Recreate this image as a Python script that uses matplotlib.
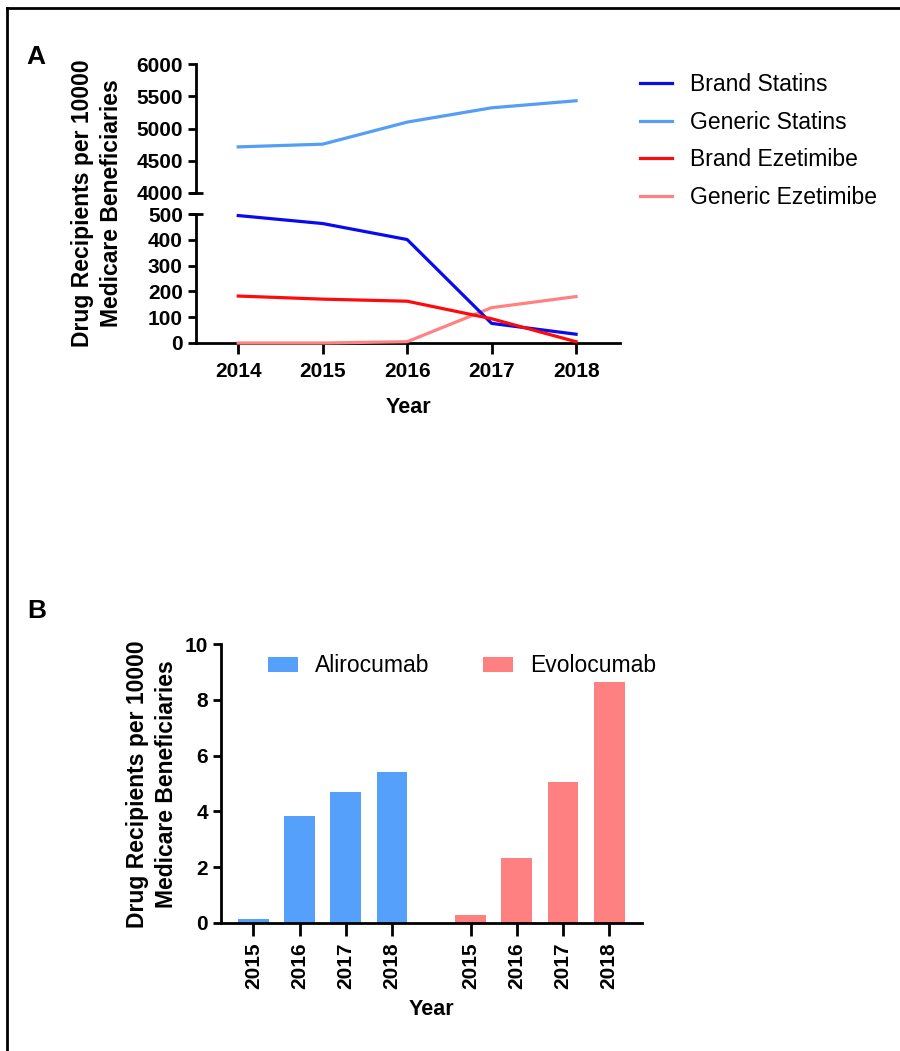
import matplotlib
matplotlib.use("Agg")
import matplotlib.pyplot as plt
from matplotlib.lines import Line2D

plt.rcParams['font.family'] = ['Liberation Sans', 'DejaVu Sans']

# ---- Panel A data: recipients per 10000 beneficiaries ----
years_a = [2014, 2015, 2016, 2017, 2018]
brand_statins = [494, 463, 401, 76, 34]
generic_statins = [4715, 4757, 5099, 5321, 5430]
brand_ezetimibe = [182, 170, 162, 94, 5]
generic_ezetimibe = [0, 0, 5, 137, 180]

# ---- Panel B data: PCSK9 inhibitors ----
years_b = ["2015", "2016", "2017", "2018"]
alirocumab = [0.13, 3.84, 4.70, 5.41]
evolocumab = [0.30, 2.33, 5.07, 8.64]

c_brand_statins = "#0a0af0"
c_generic_statins = "#559ef5"
c_brand_eze = "#ff0a0a"
c_generic_eze = "#ff8282"
c_bar_blue = "#55a0fa"
c_bar_pink = "#ff8080"

W, H = 900, 1051
fig = plt.figure(figsize=(W / 100, H / 100), dpi=100)


def rect(x0, y0, x1, y1):
    return [x0 / W, 1 - y1 / H, (x1 - x0) / W, (y1 - y0) / H]


SPINE_LW = 2.0
LINE_LW = 2.3
TICK_FS = 15

# ---------------- Panel A ----------------
ax_top = fig.add_axes(rect(196, 64, 620, 193))
ax_bot = fig.add_axes(rect(196, 214, 620, 343))

xlim_a = (2013.5, 2018.52)
for ax in (ax_top, ax_bot):
    ax.set_xlim(*xlim_a)
    ax.spines['top'].set_visible(False)
    ax.spines['right'].set_visible(False)
    ax.spines['left'].set_linewidth(SPINE_LW)
    ax.spines['bottom'].set_linewidth(SPINE_LW)
    ax.tick_params(axis='y', length=6, width=SPINE_LW, labelsize=TICK_FS)
    ax.patch.set_alpha(0)

ax_top.set_ylim(4000, 6000)
ax_top.set_yticks([4000, 4500, 5000, 5500, 6000])
ax_top.spines['bottom'].set_visible(False)
ax_top.set_xticks([])

ax_bot.set_ylim(0, 500)
ax_bot.set_yticks([0, 100, 200, 300, 400, 500])
ax_bot.set_xticks(years_a)
ax_bot.tick_params(axis='x', length=8, width=SPINE_LW, labelsize=TICK_FS, pad=6)

for ax in (ax_top, ax_bot):
    for lab in ax.get_yticklabels() + ax.get_xticklabels():
        lab.set_fontweight('bold')

# axis break marks
for ax, yb in ((ax_top, 0.0), (ax_bot, 1.0)):
    ax.plot([-0.016, 0.016], [yb, yb], transform=ax.transAxes, color='black',
            lw=SPINE_LW, clip_on=False, solid_capstyle='butt')

h1, = ax_bot.plot(years_a, brand_statins, color=c_brand_statins, lw=LINE_LW,
                  label='Brand Statins', zorder=5, clip_on=False)
h2, = ax_top.plot(years_a, generic_statins, color=c_generic_statins, lw=LINE_LW,
                  label='Generic Statins', zorder=5, clip_on=False)
h3, = ax_bot.plot(years_a, brand_ezetimibe, color=c_brand_eze, lw=LINE_LW,
                  label='Brand Ezetimibe', zorder=6, clip_on=False)
h4, = ax_bot.plot(years_a, generic_ezetimibe, color=c_generic_eze, lw=LINE_LW,
                  label='Generic Ezetimibe', zorder=4, clip_on=False)

ax_bot.set_xlabel('Year', fontsize=15.5, fontweight='bold', labelpad=11)

fig.text(97 / W, 1 - 203 / H, 'Drug Recipients per 10000\nMedicare Beneficiaries',
         rotation=90, ha='center', va='center', fontsize=16.5, fontweight='bold',
         linespacing=1.3, multialignment='center')

fig.legend(handles=[h1, h2, h3, h4], loc='upper left',
           bbox_to_anchor=(640 / W, 1 - 73 / H), frameon=False, fontsize=16.5,
           handlelength=1.4, handletextpad=0.8, labelspacing=0.64, borderpad=0,
           borderaxespad=0)

fig.text(36 / W, 1 - 57 / H, 'A', fontsize=19, fontweight='bold', ha='center', va='center')

# ---------------- Panel B ----------------
axb = fig.add_axes(rect(221, 644, 642, 923))
pos_ali = [0, 1, 2, 3]
pos_evo = [4.7, 5.7, 6.7, 7.7]
bw = 0.665
b1 = axb.bar(pos_ali, alirocumab, width=bw, color=c_bar_blue, label='Alirocumab', zorder=2)
b2 = axb.bar(pos_evo, evolocumab, width=bw, color=c_bar_pink, label='Evolocumab', zorder=2)
axb.set_xlim(-0.70, 8.41)
axb.set_ylim(0, 10)
axb.set_yticks([0, 2, 4, 6, 8, 10])
axb.set_xticks(pos_ali + pos_evo)
axb.set_xticklabels(years_b + years_b, rotation=90)
axb.spines['top'].set_visible(False)
axb.spines['right'].set_visible(False)
axb.spines['left'].set_linewidth(SPINE_LW)
axb.spines['bottom'].set_linewidth(SPINE_LW)
axb.spines['bottom'].set_zorder(3)
axb.tick_params(axis='y', length=6, width=SPINE_LW, labelsize=TICK_FS)
axb.tick_params(axis='x', length=9, width=SPINE_LW, labelsize=TICK_FS, pad=5)
for lab in axb.get_yticklabels() + axb.get_xticklabels():
    lab.set_fontweight('bold')
axb.set_xlabel('Year', fontsize=15.5, fontweight='bold', labelpad=7)

axb.legend(handles=[b1, b2], loc='center left', ncol=2,
           bbox_to_anchor=((268 - 221) / (642 - 221), (923 - 666) / (923 - 644)),
           frameon=False, fontsize=16.5, handlelength=1.3, handleheight=0.65,
           handletextpad=0.75, columnspacing=2.35, borderpad=0, borderaxespad=0)

fig.text(152 / W, 1 - 784 / H, 'Drug Recipients per 10000\nMedicare Beneficiaries',
         rotation=90, ha='center', va='center', fontsize=16.5, fontweight='bold',
         linespacing=1.3, multialignment='center')

fig.text(37 / W, 1 - 611 / H, 'B', fontsize=19, fontweight='bold', ha='center', va='center')

# frame lines along the top and left edges
fig.add_artist(Line2D([7 / W, 1.0], [1 - 8 / H, 1 - 8 / H], color='black', lw=2.0,
                      transform=fig.transFigure))
fig.add_artist(Line2D([7 / W, 7 / W], [0.0, 1 - 8 / H], color='black', lw=2.0,
                      transform=fig.transFigure))

fig.savefig('out.png', dpi=100)
